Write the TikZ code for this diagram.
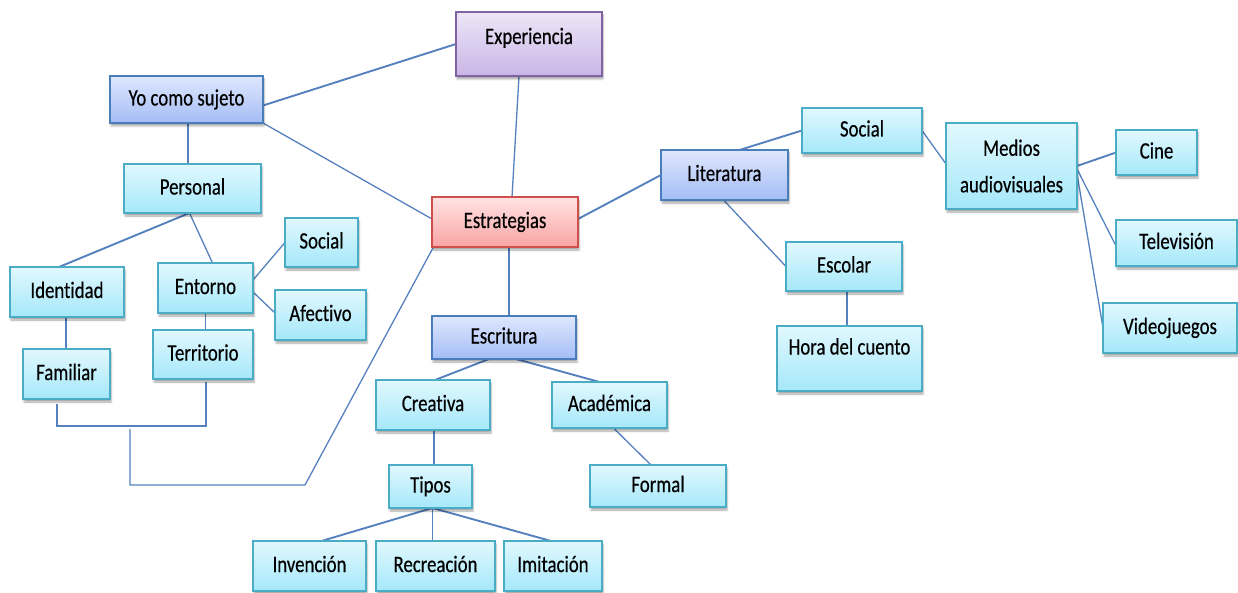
\documentclass[tikz,border=0pt]{standalone}
\usepackage{fontspec}
\setmainfont{Carlito}[FakeStretch=0.8, FakeBold=0.4, Ligatures=NoCommon]
\usetikzlibrary{shadows.blur}
\definecolor{cyT}{HTML}{E1F8FE}
\definecolor{cyB}{HTML}{A5E8FA}
\definecolor{cyD}{HTML}{4BACC6}
\definecolor{blT}{HTML}{DFE7FD}
\definecolor{blB}{HTML}{A4BDF6}
\definecolor{blD}{HTML}{4A7EBB}
\definecolor{rdT}{HTML}{FFE3E3}
\definecolor{rdB}{HTML}{F9A3A3}
\definecolor{rdD}{HTML}{CF4F4C}
\definecolor{puT}{HTML}{EDE6F7}
\definecolor{puB}{HTML}{C9B5E6}
\definecolor{puD}{HTML}{8064A2}
\definecolor{lnC}{HTML}{5581BF}
\pgfdeclarelayer{bg}
\pgfsetlayers{bg,main}
\tikzset{
  boxbase/.style={rectangle, inner sep=0pt, outer sep=0pt, line width=1.4pt,
    font=\fontsize{23.5}{28}\selectfont, text=black,
    blur shadow={shadow xshift=1pt, shadow yshift=-3pt, shadow blur radius=2pt, shadow opacity=35}},
  txt/.style={text height=17pt, text depth=5pt},
  cybox/.style={boxbase, draw=cyD, top color=cyT, bottom color=cyB},
  blbox/.style={boxbase, draw=blD, top color=blT, bottom color=blB},
  rdbox/.style={boxbase, draw=rdD, top color=rdT, bottom color=rdB},
  pubox/.style={boxbase, draw=puD, top color=puT, bottom color=puB},
  link/.style={draw=lnC, line width=1.3pt},
  tlink/.style={draw=lnC, line width=1.9pt}
}
\newcommand\bx[7]{\path ({(#2+#4)/2},{(#3+#5)/2}) node[#6, minimum width={(#4-#2)*1pt}, minimum height={(#5-#3)*1pt}] (#1) {#7};}
\begin{document}
\begin{tikzpicture}[x=1pt,y=-1pt]
\useasboundingbox (0,0) rectangle (1238,593);
\bx{exp}{456}{12}{602}{76}{pubox,txt}{\raisebox{6pt}[\height][\depth]{Experiencia}}
\bx{yo}{110}{76}{263}{123}{blbox,txt}{Yo como sujeto}
\bx{personal}{124}{164}{261}{213}{cybox,txt}{Personal}
\bx{estr}{432}{197}{578}{247}{rdbox,txt}{Estrategias}
\bx{socialL}{285}{218}{358}{267}{cybox,txt}{Social}
\bx{identidad}{10}{267}{124}{317}{cybox,txt}{Identidad}
\bx{entorno}{158}{263}{253}{313}{cybox,txt}{Entorno}
\bx{afectivo}{275}{290}{366}{340}{cybox,txt}{Afectivo}
\bx{familiar}{23}{349}{110}{399}{cybox,txt}{Familiar}
\bx{territorio}{153}{330}{253}{379}{cybox,txt}{Territorio}
\bx{escritura}{432}{316}{576}{359}{blbox,txt}{Escritura}
\bx{creativa}{376}{380}{490}{430}{cybox,txt}{Creativa}
\bx{academica}{552}{382}{667}{428}{cybox,txt}{Académica}
\bx{tipos}{389}{465}{472}{508}{cybox,txt}{Tipos}
\bx{formal}{590}{465}{726}{507}{cybox,txt}{Formal}
\bx{invencion}{253}{541}{366}{591}{cybox,txt}{Invención}
\bx{recreacion}{376}{541}{495}{591}{cybox,txt}{Recreación}
\bx{imitacion}{504}{541}{602}{591}{cybox,txt}{Imitación}
\bx{literatura}{661}{150}{788}{200}{blbox,txt}{Literatura}
\bx{socialR}{802}{108}{922}{153}{cybox,txt}{Social}
\bx{medios}{946}{123}{1077}{209}{cybox,align=center,font=\fontsize{23.5}{36.5}\selectfont}{Medios\\audiovisuales}
\bx{cine}{1116}{130}{1197}{175}{cybox,txt}{Cine}
\bx{tele}{1116}{220}{1237}{266}{cybox,txt}{Televisión}
\bx{escolar}{786}{242}{902}{291}{cybox,txt}{Escolar}
\bx{hora}{777}{326}{922}{391}{cybox,txt}{\raisebox{10pt}[\height][\depth]{Hora del cuento}}
\bx{video}{1103}{303}{1237}{353}{cybox,txt}{Videojuegos}
\coordinate (bl) at (57,426);
\coordinate (br) at (206,426);
\coordinate (bm) at (130,429);
\coordinate (bb) at (130,485);
\coordinate (bc) at (305,485);
\begin{pgfonlayer}{bg}
\draw[tlink] ([yshift=-6pt]yo.east) -- (exp.west);
\draw[link] (yo.south east) -- ([yshift=3pt]estr.west);
\draw[link] ([xshift=-10pt]exp.south) -- ([xshift=7pt]estr.north);
\draw[link] ([xshift=1.5pt]yo.south) -- ([xshift=1.5pt]yo.south |- personal.north);
\draw[tlink] ([xshift=-3pt]personal.south) -- ([xshift=-8pt]identidad.north);
\draw[link] ([xshift=-3pt]personal.south) -- ([xshift=7pt]entorno.north);
\draw[link] ([yshift=8pt]entorno.east) -- (socialL.west);
\draw[link] ([yshift=-4pt]entorno.east) -- ([yshift=2pt]afectivo.west);
\draw[link] ([xshift=-1pt]identidad.south) -- ([xshift=-1pt]identidad.south |- familiar.north);
\draw[link] (entorno.south) -- (entorno.south |- territorio.north);
\draw[link] (familiar.south -| bl) ++(0,5) -- (bl) -- (br) -- ([yshift=-3pt]territorio.south -| br);
\draw[link] (bm) -- (bb) -- (bc) -- ([xshift=2pt,yshift=1pt]estr.south west);
\draw[link] ([xshift=4pt]estr.south) -- ([xshift=4pt]estr.south |- escritura.north);
\draw[tlink] ([yshift=3pt]estr.east) -- (literatura.west);
\draw[tlink] ([xshift=15pt]literatura.north) -- (socialR.west);
\draw[link] (socialR.east) -- ([yshift=2pt]medios.west);
\draw[tlink] (medios.east) -- (cine.west);
\draw[link] ([yshift=-3pt]medios.east) -- ([yshift=-3pt]tele.west);
\draw[link] ([yshift=-8pt]medios.east) -- (video.west);
\draw[link] ([xshift=-1pt]literatura.south) -- (escolar.west);
\draw[link] ([xshift=3pt]escolar.south) -- ([xshift=3pt]escolar.south |- hora.north);
\draw[tlink] ([xshift=-15pt]escritura.south) -- ([xshift=2pt]creativa.north);
\draw[tlink] ([xshift=12pt]escritura.south) -- ([xshift=-10pt]academica.north);
\draw[link] ([xshift=1pt]creativa.south) -- ([xshift=1pt]creativa.south |- tipos.north);
\draw[link] ([xshift=4pt]academica.south) -- ([xshift=-7pt]formal.north);
\draw[tlink] ([xshift=2pt]tipos.south) -- ([xshift=12pt]invencion.north);
\draw[link] ([xshift=2pt]tipos.south) -- ([xshift=2pt]tipos.south |- recreacion.north);
\draw[tlink] ([xshift=2pt]tipos.south) -- ([xshift=-2pt]imitacion.north);
\end{pgfonlayer}
\end{tikzpicture}
\end{document}
